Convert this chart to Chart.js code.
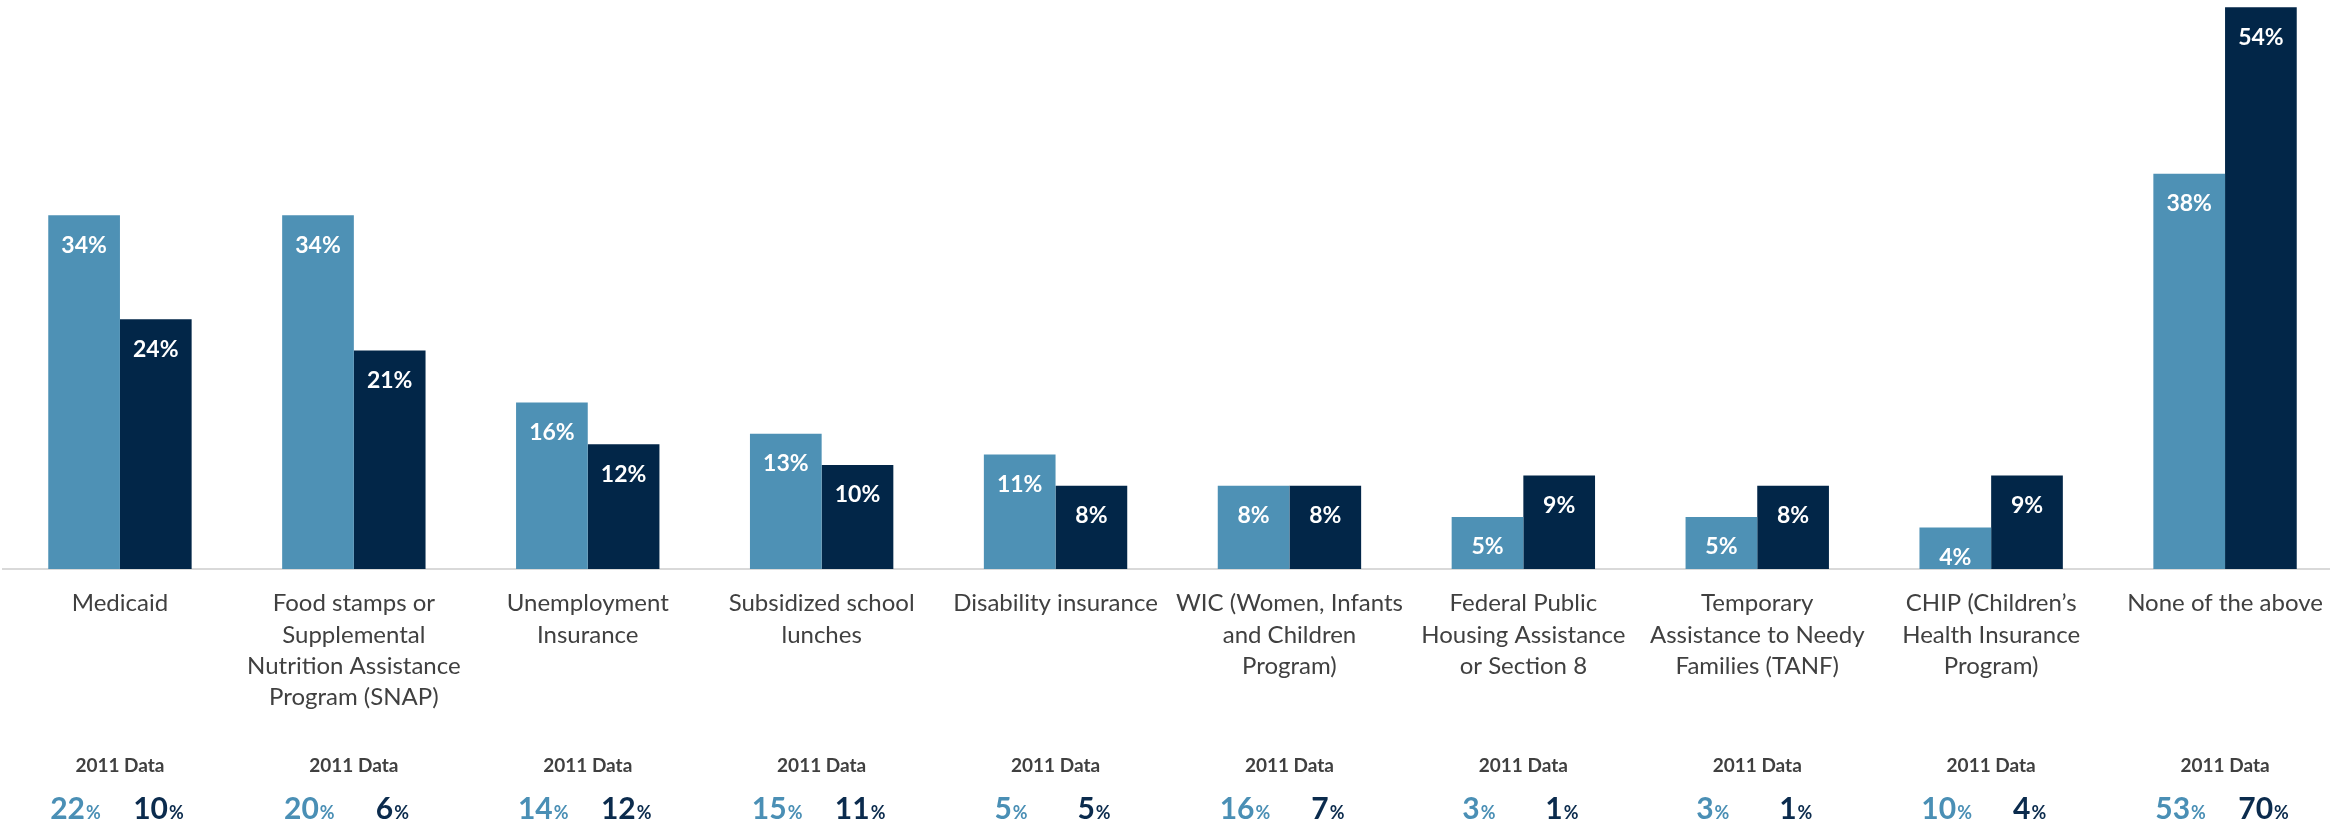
<!DOCTYPE html>
<html>
<head>
<meta charset="utf-8">
<script src="https://cdn.jsdelivr.net/npm/chart.js@4"></script>
<style>
  html, body { margin: 0; padding: 0; background: #ffffff; overflow: hidden; }
  #wrap { position: relative; width: 2342px; height: 829px; }
</style>
</head>
<body>
<div id="wrap"><canvas id="c"></canvas></div>
<script>
const categories = [
  ["Medicaid"],
  ["Food stamps or", "Supplemental", "Nutrition Assistance", "Program (SNAP)"],
  ["Unemployment", "Insurance"],
  ["Subsidized school", "lunches"],
  ["Disability insurance"],
  ["WIC (Women, Infants", "and Children", "Program)"],
  ["Federal Public", "Housing Assistance", "or Section 8"],
  ["Temporary", "Assistance to Needy", "Families (TANF)"],
  ["CHIP (Children\u2019s", "Health Insurance", "Program)"],
  ["None of the above"]
];
const seriesLight = [34, 34, 16, 13, 11, 8, 5, 5, 4, 38];
const seriesDark = [24, 21, 12, 10, 8, 8, 9, 8, 9, 54];
const data2011Light = [22, 20, 14, 15, 5, 16, 3, 3, 10, 53];
const data2011Dark = [10, 6, 12, 11, 5, 7, 1, 1, 4, 70];
const data2011Title = "2011 Data";

const LIGHT = "#4E91B5";
const DARK = "#022648";

const barLabels = {
  id: "barLabels",
  afterDatasetsDraw(chart) {
    const ctx = chart.ctx;
    ctx.save();
    ctx.font = "bold 23px Lato";
    ctx.fillStyle = "#ffffff";
    ctx.textAlign = "center";
    ctx.textBaseline = "middle";
    chart.data.datasets.forEach((ds, di) => {
      const meta = chart.getDatasetMeta(di);
      meta.data.forEach((bar, i) => {
        ctx.fillText(ds.data[i] + "%", bar.x, bar.y + 30);
      });
    });
    ctx.restore();
  }
};

const bottomData = {
  id: "bottomData",
  afterDraw(chart) {
    const ctx = chart.ctx;
    const xs = chart.scales.x;
    ctx.save();
    ctx.textBaseline = "alphabetic";
    const drawNum = (val, cx, color) => {
      const big = "bold 30px Lato", small = "bold 18px Lato";
      ctx.font = big; const w1 = ctx.measureText(String(val)).width;
      ctx.font = small; const w2 = ctx.measureText("%").width;
      const x0 = cx - (w1 + w2) / 2;
      ctx.fillStyle = color;
      ctx.textAlign = "left";
      ctx.font = big; ctx.fillText(String(val), x0, 819);
      ctx.font = small; ctx.fillText("%", x0 + w1 + 1, 819);
    };
    categories.forEach((c, i) => {
      const x = xs.getPixelForValue(i);
      ctx.font = "bold 19px Lato";
      ctx.fillStyle = "#404040";
      ctx.textAlign = "center";
      ctx.fillText(data2011Title, x, 772);
      drawNum(data2011Light[i], x - 45, "#4A8FB5");
      drawNum(data2011Dark[i], x + 38, "#0B2B4D");
    });
    ctx.restore();
  }
};

new Chart(document.getElementById("c"), {
  type: "bar",
  data: {
    labels: categories,
    datasets: [
      { label: "Light series", data: seriesLight, backgroundColor: LIGHT, borderWidth: 0 },
      { label: "Dark series", data: seriesDark, backgroundColor: DARK, borderWidth: 0 }
    ]
  },
  options: {
    responsive: true,
    maintainAspectRatio: false,
    animation: false,
    layout: { padding: { left: 3, right: 0, top: 0, bottom: 0 } },
    plugins: { legend: { display: false }, tooltip: { enabled: false } },
    datasets: { bar: { categoryPercentage: 0.613, barPercentage: 1.0 } },
    scales: {
      x: {
        grid: { display: false, drawTicks: false },
        border: { display: true, color: "#D9D9D9", width: 2 },
        ticks: {
          color: "#404040",
          font: { family: "Lato", size: 24, lineHeight: 1.3 },
          padding: 19,
          maxRotation: 0,
          autoSkip: false
        },
        afterFit(scale) { scale.height = 260; }
      },
      y: {
        display: false,
        min: 0,
        max: 54.7
      }
    }
  },
  plugins: [barLabels, bottomData]
});
</script>
</body>
</html>
